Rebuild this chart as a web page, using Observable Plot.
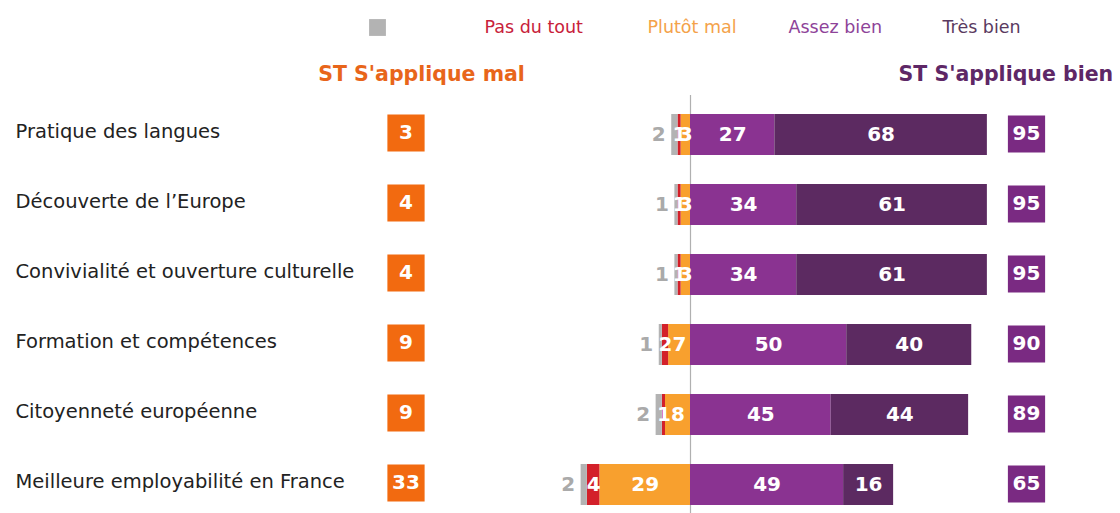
<!DOCTYPE html>
<html><head><meta charset="utf-8">
<script src="https://cdn.jsdelivr.net/npm/d3@7"></script>
<script src="https://cdn.jsdelivr.net/npm/@observablehq/plot@0.6"></script>
<style>
body{margin:0;background:#fff;}
#chart{position:relative;width:1120px;height:513px;overflow:hidden;}
</style></head><body><div id="chart"></div>
<script>
// ---- data ----
const categories = [
  "Pratique des langues",
  "Découverte de l’Europe",
  "Convivialité et ouverture culturelle",
  "Formation et compétences",
  "Citoyenneté européenne",
  "Meilleure employabilité en France"
];
const seriesNames = ["NSP", "Pas du tout", "Plutôt mal", "Assez bien", "Très bien"];
const nsp       = [2, 1, 1, 1, 2, 2];
const pasDuTout = [1, 1, 1, 2, 1, 4];
const plutotMal = [3, 3, 3, 7, 8, 29];
const assezBien = [27, 34, 34, 50, 45, 49];
const tresBien  = [68, 61, 61, 40, 44, 16];
const totalMal  = [3, 4, 4, 9, 9, 33];
const totalBien = [95, 95, 95, 90, 89, 65];
const legendLabels = ["", "Pas du tout", "Plutôt mal", "Assez bien", "Très bien"];
const headerMal = "ST S'applique mal";
const headerBien = "ST S'applique bien";

// ---- styles ----
const seriesColors = ["#b3b3b3", "#d3202a", "#f8a02e", "#8a3391", "#5c2a61"];
const legendTextColors = ["#b3b3b3", "#c8213a", "#f4a24a", "#8e4399", "#5a3a60"];
const legendX = [377, 484, 647, 788, 942];
const pxPerUnit = 3.125, zeroX = 690;
const font = "'DejaVu Sans', Verdana, sans-serif";

// ---- build stacked segments ----
const segments = [];
categories.forEach((cat, i) => {
  let left = 0;
  [[plutotMal, "Plutôt mal"], [pasDuTout, "Pas du tout"], [nsp, "NSP"]].forEach(([arr, s]) => {
    segments.push({cat, series: s, value: arr[i], x1: left - arr[i], x2: left});
    left -= arr[i];
  });
  let right = 0;
  [[assezBien, "Assez bien"], [tresBien, "Très bien"]].forEach(([arr, s]) => {
    segments.push({cat, series: s, value: arr[i], x1: right, x2: right + arr[i]});
    right += arr[i];
  });
});
const rows = categories.map((cat, i) => ({cat, mal: totalMal[i], bien: totalBien[i]}));
const legendItems = seriesNames.map((s, i) => ({s, label: legendLabels[i], color: legendTextColors[i], x: legendX[i]}));

const marks = [
  Plot.ruleX([0], {stroke: "#b0b0b0", strokeWidth: 1.2, insetTop: 95}),
  Plot.barX(segments, {x1: "x1", x2: "x2", y: "cat", fill: "series"}),
  Plot.text(segments.filter(d => d.series !== "NSP"), {
    x: d => (d.x1 + d.x2) / 2, y: "cat", text: d => String(d.value),
    fill: "white", fontWeight: "bold", fontSize: 20, fontFamily: font
  }),
  Plot.text(segments.filter(d => d.series === "NSP"), {
    x: "x1", y: "cat", text: d => String(d.value), textAnchor: "end", dx: -6,
    fill: "#aaaaaa", fontWeight: "bold", fontSize: 20, fontFamily: font
  }),
  Plot.text(categories, {
    y: d => d, text: d => d, frameAnchor: "left", dx: 15, textAnchor: "start",
    fill: "#222", fontSize: 19.5, fontFamily: font, dy: -3
  }),
  Plot.dot(rows, {y: "cat", frameAnchor: "left", dx: 405.5, dy: -2, symbol: "square", r: 21, fill: "#f26a10"}),
  Plot.text(rows, {y: "cat", frameAnchor: "left", dx: 405.5, dy: -2, textAnchor: "middle", text: d => String(d.mal),
    fill: "white", fontWeight: "bold", fontSize: 20, fontFamily: font}),
  Plot.dot(rows, {y: "cat", frameAnchor: "left", dx: 1026, dy: -1, symbol: "square", r: 21, fill: "#7a2a82"}),
  Plot.text(rows, {y: "cat", frameAnchor: "left", dx: 1026, dy: -1, textAnchor: "middle", text: d => String(d.bien),
    fill: "white", fontWeight: "bold", fontSize: 20, fontFamily: font}),
  Plot.text([headerMal], {frameAnchor: "top-left", dx: 421, dy: 74, lineAnchor: "middle", text: d => d, textAnchor: "middle",
    fill: "#e8651a", fontWeight: "bold", fontSize: 20.5, fontFamily: font}),
  Plot.text([headerBien], {frameAnchor: "top-left", dx: 898, dy: 74, lineAnchor: "middle", text: d => d, textAnchor: "start",
    fill: "#5e2766", fontWeight: "bold", fontSize: 20.5, fontFamily: font}),
  Plot.dot(legendItems.slice(0, 1), {frameAnchor: "top-left", dx: legendX[0], dy: 27, symbol: "square", r: 9.5, fill: seriesColors[0]})
];
legendItems.slice(1).forEach(it => {
  marks.push(Plot.text([it], {frameAnchor: "top-left", dx: it.x, dy: 27, lineAnchor: "middle", text: "label", textAnchor: "start",
    fill: it.color, fontSize: 17.5, fontFamily: font}));
});

const plot = Plot.plot({
  width: 1120, height: 513,
  marginTop: 0, marginBottom: 0, marginLeft: 0, marginRight: 0,
  style: {fontFamily: font, background: "white", overflow: "hidden"},
  x: {domain: [-zeroX / pxPerUnit, (1120 - zeroX) / pxPerUnit], axis: null},
  y: {domain: categories, range: [97.75, 520.75], paddingInner: 0.41, paddingOuter: 0.205, axis: null},
  color: {domain: seriesNames, range: seriesColors},
  marks
});
document.getElementById("chart").appendChild(plot);
</script>
</body></html>
